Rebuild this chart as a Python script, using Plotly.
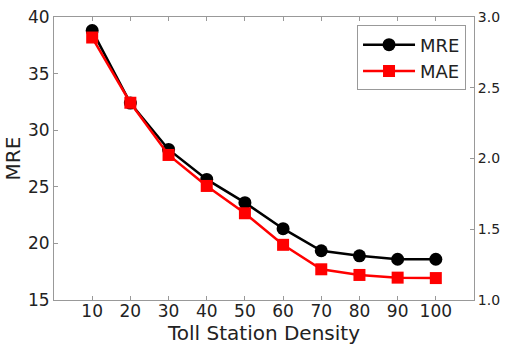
import plotly.graph_objects as go

density = [10, 20, 30, 40, 50, 60, 70, 80, 90, 100]
mre = [38.8, 32.4, 28.3, 25.65, 23.6, 21.3, 19.35, 18.9, 18.6, 18.6]
mae = [2.855, 2.394, 2.025, 1.806, 1.613, 1.39, 1.217, 1.177, 1.158, 1.155]

grey = "#999999"
font = "DejaVu Sans"

fig = go.Figure()
fig.add_trace(go.Scatter(x=density, y=mre, name="MRE", mode="lines+markers",
                         line=dict(color="black", width=2.5),
                         marker=dict(symbol="circle", size=13, color="black"),
                         yaxis="y"))
fig.add_trace(go.Scatter(x=density, y=mae, name="MAE", mode="lines+markers",
                         line=dict(color="red", width=2.5),
                         marker=dict(symbol="square", size=12, color="red"),
                         yaxis="y2"))

fig.update_layout(
    width=507, height=346,
    margin=dict(l=54, r=33, t=17, b=46, autoexpand=False),
    paper_bgcolor="white", plot_bgcolor="white",
    font=dict(family=font, color="#222222"),
    showlegend=True,
    legend=dict(x=0.981, y=0.97, xanchor="right", yanchor="top",
                bordercolor=grey, borderwidth=1, bgcolor="white",
                font=dict(size=18, family=font), itemwidth=52,
                tracegroupgap=0),
    xaxis=dict(range=[0, 110], tickvals=density, ticks="inside", ticklen=4,
               tickcolor=grey, showline=True, linecolor=grey, mirror="ticks",
               showgrid=False, zeroline=False, automargin=False,
               ticklabelstandoff=-4,
               tickfont=dict(size=17), title=dict(text="Toll Station Density",
                                                  font=dict(size=20), standoff=2)),
    yaxis=dict(range=[15, 40], dtick=5, ticks="inside", ticklen=4, tickcolor=grey,
               showline=True, linecolor=grey, showgrid=False, zeroline=False,
               automargin=False, tickfont=dict(size=17),
               title=dict(text="MRE", font=dict(size=20), standoff=1)),
    yaxis2=dict(range=[1.0, 3.0], dtick=0.5, tickformat=".1f", overlaying="y",
                side="right", ticks="inside", ticklen=4, tickcolor=grey,
                showline=True, linecolor=grey, showgrid=False, zeroline=False,
                automargin=False, tickfont=dict(size=14)),
)

fig.write_html("out.html")
